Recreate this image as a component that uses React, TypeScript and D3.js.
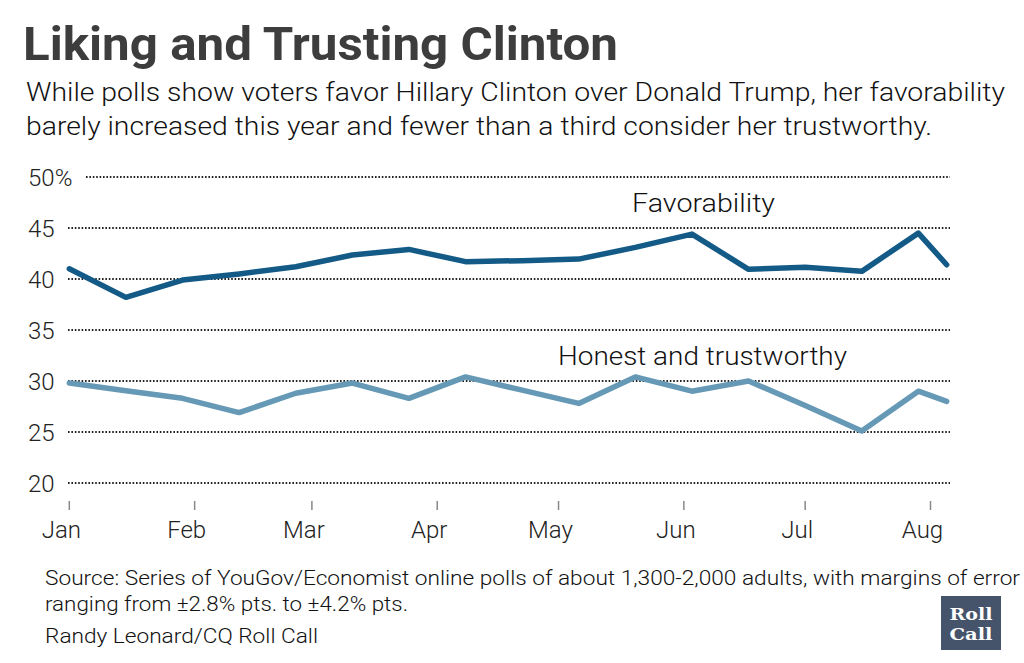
import React from "react";
import * as d3 from "d3";

const dates = [
  "2016-01-01", "2016-01-15", "2016-01-29", "2016-02-12", "2016-02-26",
  "2016-03-11", "2016-03-25", "2016-04-08", "2016-04-22", "2016-05-06",
  "2016-05-20", "2016-06-03", "2016-06-17", "2016-07-01", "2016-07-15",
  "2016-07-29", "2016-08-05",
];
const favorability = [41.0, 38.2, 39.9, 40.5, 41.2, 42.35, 42.9, 41.7, 41.8, 41.95, 43.1, 44.4, 40.95, 41.15, 40.75, 44.5, 41.4];
const honest = [29.8, 29.05, 28.3, 26.9, 28.8, 29.8, 28.3, 30.4, 29.1, 27.8, 30.4, 29.0, 30.0, 27.6, 25.1, 29.0, 28.0];
const yTicks = [20, 25, 30, 35, 40, 45, 50];
const monthTicks = ["2016-01-01", "2016-02-01", "2016-03-01", "2016-04-01", "2016-05-01", "2016-06-01", "2016-07-01", "2016-08-01"];
const monthLabels = ["Jan", "Feb", "Mar", "Apr", "May", "Jun", "Jul", "Aug"];

const title = "Liking and Trusting Clinton";
const subtitle = [
  "While polls show voters favor Hillary Clinton over Donald Trump, her favorability",
  "barely increased this year and fewer than a third consider her trustworthy.",
];
const source = [
  "Source: Series of YouGov/Economist online polls of about 1,300-2,000 adults, with margins of error",
  "ranging from \u00b12.8% pts. to \u00b14.2% pts.",
  "Randy Leonard/CQ Roll Call",
];

const parse = d3.timeParse("%Y-%m-%d");
const FONT = "Roboto, 'Open Sans', sans-serif";

export default function App() {
  const x = d3.scaleTime()
    .domain([parse("2016-01-01")!, parse("2016-08-01")!])
    .range([69.3, 930.5]);
  const y = d3.scaleLinear().domain([20, 50]).range([483, 177]);

  const line = d3.line<number>()
    .x((_, i) => x(parse(dates[i])!))
    .y((d) => y(d));

  return (
    <svg
      width={1024}
      height={663}
      style={{ position: "absolute", left: 0, top: 0, background: "#fff" }}
      fontFamily={FONT}
    >
      <rect width={1024} height={663} fill="#fff" />
      <text x={23} y={60} fontSize={47} fontWeight={700} fill="#3d3d3d"
        textLength={595} lengthAdjust="spacingAndGlyphs">{title}</text>
      <text x={26} y={101} fontSize={25} fill="#111" fontWeight={300}
        textLength={979} lengthAdjust="spacingAndGlyphs">{subtitle[0]}</text>
      <text x={26} y={135} fontSize={25} fill="#111" fontWeight={300}
        textLength={906} lengthAdjust="spacingAndGlyphs">{subtitle[1]}</text>

      {yTicks.map((t) => (
        <g key={t}>
          <line
            x1={t === 50 ? 86 : 68}
            x2={950}
            y1={y(t)}
            y2={y(t)}
            stroke="#222"
            strokeWidth={2}
            strokeDasharray="1.6 1.8"
          />
          <text x={28} y={y(t) + 9} fontSize={24} fill="#222" fontWeight={300}>
            {t === 50 ? "50%" : String(t)}
          </text>
        </g>
      ))}

      {monthTicks.map((m, i) => {
        const px = x(parse(m)!);
        return (
          <g key={m}>
            <line x1={px} x2={px} y1={501} y2={510} stroke="#888" strokeWidth={1.5} />
            <text x={px - 8} y={538} fontSize={24} fill="#222" textAnchor="middle" fontWeight={300}>
              {monthLabels[i]}
            </text>
          </g>
        );
      })}

      <path d={line(honest) || ""} fill="none" stroke="#6699b6" strokeWidth={5.5}
        strokeLinejoin="round" strokeLinecap="round" />
      <path d={line(favorability) || ""} fill="none" stroke="#135a87" strokeWidth={5.5}
        strokeLinejoin="round" strokeLinecap="round" />

      <text x={632} y={212} fontSize={25} fill="#111" fontWeight={300}
        textLength={143} lengthAdjust="spacingAndGlyphs">Favorability</text>
      <text x={558} y={365} fontSize={25} fill="#111" fontWeight={300}
        textLength={289} lengthAdjust="spacingAndGlyphs">Honest and trustworthy</text>

      <text x={45} y={585} fontSize={21} fill="#111" fontWeight={300}
        textLength={975} lengthAdjust="spacingAndGlyphs">{source[0]}</text>
      <text x={45} y={611} fontSize={21} fill="#111" fontWeight={300}
        textLength={363} lengthAdjust="spacingAndGlyphs">{source[1]}</text>
      <text x={45} y={643} fontSize={21} fill="#111" fontWeight={300}
        textLength={273} lengthAdjust="spacingAndGlyphs">{source[2]}</text>

      <rect x={941} y={596} width={60} height={54} fill="#45546a" />
      <text x={971} y={620} fontSize={17} fontWeight={700} fill="#fff" textAnchor="middle"
        fontFamily="'DejaVu Serif', serif" textLength={43} lengthAdjust="spacingAndGlyphs">Roll</text>
      <text x={971} y={640} fontSize={17} fontWeight={700} fill="#fff" textAnchor="middle"
        fontFamily="'DejaVu Serif', serif" textLength={43} lengthAdjust="spacingAndGlyphs">Call</text>
    </svg>
  );
}
